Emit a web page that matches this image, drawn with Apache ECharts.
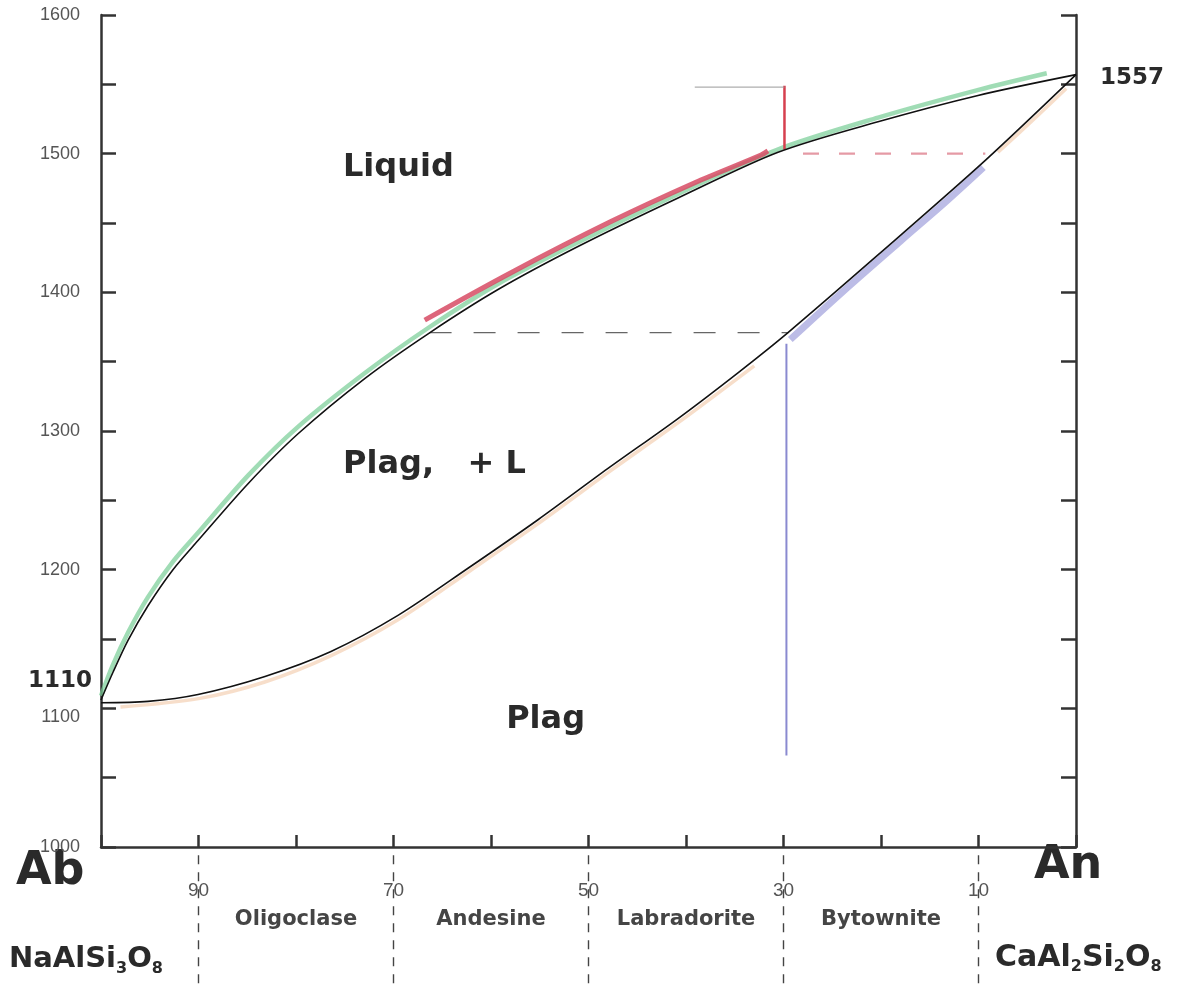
<!DOCTYPE html>
<html><head><meta charset="utf-8">
<script src="https://cdn.jsdelivr.net/npm/echarts@6/dist/echarts.min.js"></script>
<style>html,body{margin:0;padding:0;background:#fff}#c{width:1181px;height:990px}</style>
</head><body><div id="c"></div>
<script>
// Composition axis: wt% Ab (100 = pure albite at left, 0 = pure anorthite at right)
const liquidusAb = [100, 98.77, 97.23, 95.18, 92.62, 90.05, 84.92, 79.79, 72.92, 66.26, 59.28, 51.08, 40.82, 30.56, 20.31, 10.05, 0];
const liquidusT  = [1106, 1126, 1149, 1174, 1200, 1221, 1262, 1298, 1338, 1371, 1402, 1433, 1468, 1501, 1523, 1542, 1557];

const solidusAb = [100, 95.18, 90.05, 83.18, 76.41, 69.54, 62.36, 55.18, 48.0, 40.82, 34.67, 29.54, 20.31, 9.33, 0];
const solidusT  = [1104, 1105, 1110, 1123, 1141, 1167, 1201, 1236, 1273, 1309, 1342, 1371, 1427, 1495, 1557];

// coloured highlight strokes traced over the curves
const greenAb = [100, 98.8, 97.2, 95.2, 92.6, 90, 84.9, 79.8, 72.9, 66.3, 59.3, 51.1, 40.8, 30.6, 20.3, 10, 3];
const greenT  = [1109, 1131, 1155, 1180, 1206, 1227, 1268, 1303, 1342, 1375, 1406, 1436, 1471, 1503, 1526, 1546, 1558];

const redAb = [66.8, 58, 47.7, 39.1, 32.3, 31.6];
const redT  = [1380, 1414, 1451, 1479, 1499, 1502];

const orangeAb = [98, 90, 83.2, 76.4, 69.5, 62.4, 55.2, 48, 40.8, 33];
const orangeT  = [1101, 1107, 1119, 1138, 1164, 1198, 1233, 1270, 1306, 1347];
const orangeTopAb = [8, 4, 1];
const orangeTopT  = [1501, 1527, 1547];

const lavenderAb = [29.3, 24, 18, 13.4, 9.5];
const lavenderT  = [1366, 1400, 1437, 1465, 1490];

// crystallisation path construction lines
const tieAb = [66.3, 29.5];      const tieT = [1371, 1371];
const dropAb = [29.7, 29.7];     const dropT = [1363, 1066];
const pinkAb = [28, 9.3];        const pinkT = [1500, 1500];
const redVAb = [29.9, 29.9];     const redVT = [1503, 1549];
const greyHAb = [39.1, 29.9];    const greyHT = [1548, 1548];

// axis / labelling
const xTickLabels = [90, 70, 50, 30, 10];
const boundaries = [90, 70, 50, 30, 10];
const mineralNames = ['Oligoclase', 'Andesine', 'Labradorite', 'Bytownite'];
const mineralMid = [80, 60, 40, 20];
const yLabelStep = 100;

const regionLabels = [
  {name: 'Liquid', ab: 69.5, t: 1490},
  {name: 'Plag,   + L', ab: 65.8, t: 1276},
  {name: 'Plag', ab: 54.4, t: 1092}
];
const pointLabels = [
  {name: '1110', ab: 100, t: 1110},
  {name: '1557', ab: 0, t: 1557}
];

const FONT = '"Liberation Sans", Arial, Helvetica, sans-serif';
const BFONT = '"DejaVu Sans", "Liberation Sans", Arial, sans-serif';
const INK = '#2a2a2a';
const pair = (xs, ys) => xs.map((x, i) => [x, ys[i]]);
const mineralMap = {};
mineralMid.forEach((m, i) => mineralMap[m] = mineralNames[i]);

function lineSeries(xs, ys, style, extra) {
  return Object.assign({
    type: 'line', data: pair(xs, ys), showSymbol: false, symbol: 'none',
    lineStyle: style, silent: true, animation: false
  }, extra || {});
}
const SM = 0.3;

const series = [
  lineSeries(greenAb, greenT, {color: 'rgba(120,205,150,0.7)', width: 4.5}, {z: 2, smooth: SM}),
  lineSeries(orangeAb, orangeT, {color: 'rgba(240,190,150,0.5)', width: 3.5}, {z: 2, smooth: SM}),
  lineSeries(orangeTopAb, orangeTopT, {color: 'rgba(240,190,150,0.5)', width: 3.5}, {z: 2, smooth: SM}),
  lineSeries(lavenderAb, lavenderT, {color: 'rgba(160,160,220,0.7)', width: 7}, {z: 2, smooth: SM}),
  lineSeries(redAb, redT, {color: 'rgba(215,75,100,0.85)', width: 5}, {z: 3, smooth: SM}),
  lineSeries(liquidusAb, liquidusT, {color: '#111', width: 1.6}, {z: 5, smooth: SM}),
  lineSeries(solidusAb, solidusT, {color: '#111', width: 1.6}, {z: 5, smooth: SM}),
  lineSeries(tieAb, tieT, {color: '#666', width: 1.3, type: [22, 22]}, {z: 4}),
  lineSeries(dropAb, dropT, {color: '#8a8ad0', width: 2}, {z: 4}),
  lineSeries(pinkAb, pinkT, {color: '#e59aa5', width: 2.2, type: [16, 20]}, {z: 4}),
  lineSeries(redVAb, redVT, {color: '#d6404f', width: 2.5}, {z: 4}),
  lineSeries(greyHAb, greyHT, {color: '#999', width: 1}, {z: 4})
];

// dashed composition boundaries below the axis
boundaries.forEach(b => {
  series.push(lineSeries([b, b], [994, 900], {color: '#444', width: 1.4, type: [9, 8]}, {clip: false, z: 1}));
});

series.push({
  type: 'scatter', symbolSize: 0, silent: true, z: 10, itemStyle: {opacity: 1},
  data: regionLabels.map(r => ({value: [r.ab, r.t], name: r.name})),
  label: {show: true, position: 'inside', formatter: p => p.name, opacity: 1, textBorderWidth: 0,
          fontFamily: BFONT, fontWeight: 'bold', fontSize: 32, color: INK}
});
series.push({
  type: 'scatter', symbolSize: 0, silent: true, z: 10, clip: false, itemStyle: {opacity: 1},
  data: [
    {value: [pointLabels[0].ab, pointLabels[0].t], name: pointLabels[0].name,
     label: {position: 'left', distance: 9, offset: [0, -13]}},
    {value: [pointLabels[1].ab, pointLabels[1].t], name: pointLabels[1].name,
     label: {position: 'right', distance: 24, offset: [0, 3]}}
  ],
  label: {show: true, formatter: p => p.name, opacity: 1, textBorderWidth: 0,
          fontFamily: BFONT, fontWeight: 'bold', fontSize: 23, color: INK}
});

const axisColor = '#333';
const subRich = {s: {fontFamily: BFONT, fontWeight: 'bold', fontSize: 16, fill: INK, padding: [18, 0, 0, 0]}};
const option = {
  animation: false,
  backgroundColor: '#fff',
  grid: {left: 101, right: 105, top: 15, bottom: 143, containLabel: false},
  xAxis: [{
    type: 'value', min: 0, max: 100, interval: 10, inverse: true, position: 'bottom',
    axisLine: {show: true, onZero: false, lineStyle: {color: axisColor, width: 2.5}},
    axisTick: {show: true, inside: true, length: 12, lineStyle: {color: axisColor, width: 2.5}},
    splitLine: {show: false},
    axisLabel: {margin: 34, color: '#555', fontSize: 19, fontFamily: FONT,
                formatter: v => xTickLabels.includes(v) ? String(v) : ''}
  }, {
    type: 'value', min: 0, max: 100, interval: 10, inverse: true, position: 'bottom', offset: 0,
    axisLine: {show: false}, axisTick: {show: false}, splitLine: {show: false},
    axisLabel: {margin: 62, color: '#454545', fontSize: 21, fontWeight: 'bold', fontFamily: BFONT,
                formatter: v => mineralMap[v] || ''}
  }],
  yAxis: [{
    type: 'value', min: 1000, max: 1600, interval: 50, position: 'left',
    axisLine: {show: true, onZero: false, lineStyle: {color: axisColor, width: 2.5}},
    axisTick: {show: true, inside: true, length: 15, lineStyle: {color: axisColor, width: 2.5}},
    splitLine: {show: false},
    axisLabel: {margin: 21, color: '#555', fontSize: 18, fontFamily: FONT,
      formatter: v => v % yLabelStep === 0 ? (v === 1100 ? '{d|' + v + '}' : '{n|' + v + '}') : '',
      rich: {n: {color: '#555', fontSize: 18, fontFamily: FONT},
             d: {color: '#555', fontSize: 18, fontFamily: FONT, padding: [18, 0, 0, 0]}}}
  }, {
    type: 'value', min: 1000, max: 1600, interval: 50, position: 'right',
    axisLine: {show: true, onZero: false, lineStyle: {color: axisColor, width: 2.5}},
    axisTick: {show: true, inside: true, length: 15, lineStyle: {color: axisColor, width: 2.5}},
    splitLine: {show: false}, axisLabel: {show: false}
  }],
  graphic: [
    {type: 'text', left: 16, top: 849, style: {text: 'Ab', fontFamily: BFONT, fontWeight: 'bold', fontSize: 46, fill: INK}},
    {type: 'text', left: 1034, top: 843, style: {text: 'An', fontFamily: BFONT, fontWeight: 'bold', fontSize: 46, fill: INK}},
    {type: 'text', left: 9, top: 945, style: {
      text: 'NaAlSi{s|3}O{s|8}', fontFamily: BFONT, fontWeight: 'bold', fontSize: 29, fill: INK, rich: subRich}},
    {type: 'text', left: 995, top: 943, style: {
      text: 'CaAl{s|2}Si{s|2}O{s|8}', fontFamily: BFONT, fontWeight: 'bold', fontSize: 30, fill: INK, rich: subRich}}
  ],
  series: series
};

const chart = echarts.init(document.getElementById('c'), null, {renderer: 'canvas'});
chart.setOption(option);
</script>
</body></html>
